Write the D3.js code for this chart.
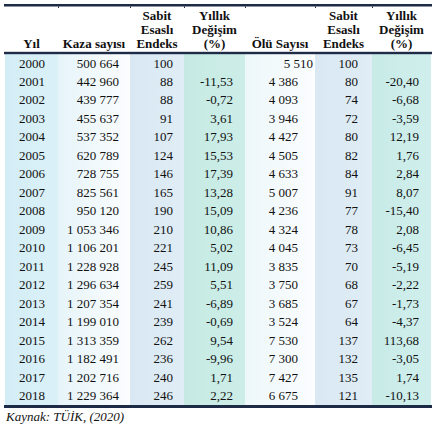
<!DOCTYPE html>
<html><head><meta charset="utf-8">
<script src="https://cdn.jsdelivr.net/npm/d3@7"></script>
<style>html,body{margin:0;padding:0;background:#fff}svg{display:block}
svg text{font-family:"Liberation Serif","Times New Roman",Times,serif;}</style>
</head><body>
<script>
const years = [2000,2001,2002,2003,2004,2005,2006,2007,2008,2009,2010,2011,2012,2013,2014,2015,2016,2017,2018];
const kazaSayisi = [500664,442960,439777,455637,537352,620789,728755,825561,950120,1053346,1106201,1228928,1296634,1207354,1199010,1313359,1182491,1202716,1229364];
const kazaEndeks = [100,88,88,91,107,124,146,165,190,210,221,245,259,241,239,262,236,240,246];
const kazaDegisim = [null,-11.53,-0.72,3.61,17.93,15.53,17.39,13.28,15.09,10.86,5.02,11.09,5.51,-6.89,-0.69,9.54,-9.96,1.71,2.22];
const oluSayisi = [5510,4386,4093,3946,4427,4505,4633,5007,4236,4324,4045,3835,3750,3685,3524,7530,7300,7427,6675];
const oluEndeks = [100,80,74,72,80,82,84,91,77,78,73,70,68,67,64,137,132,135,121];
const oluDegisim = [null,-20.40,-6.68,-3.59,12.19,1.76,2.84,8.07,-15.40,2.08,-6.45,-5.19,-2.22,-1.73,-4.37,113.68,-3.05,1.74,-10.13];
const headers = [["Yıl"],["Kaza sayısı"],["Sabit","Esaslı","Endeks"],["Yıllık","Değişim","(%)"],["Ölü Sayısı"],["Sabit","Esaslı","Endeks"],["Yıllık","Değişim","(%)"]];
const source = "Kaynak: TÜİK, (2020)";

const W = 438, H = 429;
const loc = d3.formatLocale({decimal: ",", thousands: " ", grouping: [3], minus: "-"});
const fInt = loc.format(",d");
const fDec = loc.format(",.2f");
const fYear = d => String(d);

const edges = [5,58,130,184,245,315,372,431];
const cols = [
  {data: years, fmt: fYear, anchor: "middle", x: 32, c1: "#d3edf6", c2: "#dbf1f8"},
  {data: kazaSayisi, fmt: fInt, anchor: "end", x: 119, c1: "#e6f4f9", c2: "#fbfdfe"},
  {data: kazaEndeks, fmt: fInt, anchor: "end", x: 173, c1: "#d9e8f3", c2: "#e0edf6"},
  {data: kazaDegisim, fmt: fDec, anchor: "end", x: 233, c1: "#c6eae3", c2: "#cdeee8"},
  {data: oluSayisi, fmt: fInt, anchor: "end", x: 298, c1: "#edf7fa", c2: "#fbfdfe"},
  {data: oluEndeks, fmt: fInt, anchor: "end", x: 358, c1: "#d9e8f3", c2: "#e0edf6"},
  {data: oluDegisim, fmt: fDec, anchor: "end", x: 419, c1: "#c8ebe8", c2: "#d0efec"}
];

const svg = d3.select("body").append("svg").attr("width", W).attr("height", H);
const defs = svg.append("defs");
cols.forEach((c, i) => {
  const g = defs.append("linearGradient").attr("id", "g" + i).attr("x1", "0").attr("x2", "1").attr("y1", "0").attr("y2", "0");
  g.append("stop").attr("offset", "0").attr("stop-color", c.c1);
  g.append("stop").attr("offset", "1").attr("stop-color", c.c2);
});

const y = d3.scaleBand().domain(years).range([54, 405]).padding(0);

svg.append("g").selectAll("rect").data(cols).join("rect")
  .attr("x", (d, i) => edges[i]).attr("width", (d, i) => edges[i + 1] - edges[i])
  .attr("y", y.range()[0]).attr("height", y.range()[1] - y.range()[0])
  .attr("fill", (d, i) => `url(#g${i})`);

const hg = svg.append("g").style("font-size", "13px").style("font-weight", "bold").attr("fill", "#111");
headers.forEach((lines, i) => {
  const cx = (edges[i] + edges[i + 1]) / 2;
  lines.forEach((t, j) => {
    hg.append("text").attr("x", cx).attr("y", 47.5 - (lines.length - 1 - j) * 13.7)
      .attr("text-anchor", "middle").text(t);
  });
});

const bg = svg.append("g").style("font-size", "13px").attr("fill", "#111");
cols.forEach((c, ci) => {
  bg.append("g").selectAll("text").data(c.data.map((v, i) => ({v, yr: years[i], i})).filter(d => d.v !== null))
    .join("text")
    .attr("x", d => c.x + (ci === 4 && d.i === 0 ? 15 : 0))
    .attr("y", d => y(d.yr) + 13.5)
    .attr("text-anchor", c.anchor)
    .text(d => c.fmt(d.v));
});

const navy = "#1e2b47";
svg.append("rect").attr("x", 4).attr("y", 4).attr("width", 428).attr("height", 2.5).attr("fill", navy);
svg.append("rect").attr("x", 4).attr("y", 51.8).attr("width", 428).attr("height", 2.4).attr("fill", navy);
svg.append("rect").attr("x", 4).attr("y", 405).attr("width", 428).attr("height", 3).attr("fill", navy);
svg.append("g").selectAll("rect").data(edges.slice(1, -1)).join("rect")
  .attr("x", d => d).attr("y", 6.5).attr("width", 1).attr("height", 1.5).attr("fill", navy);

svg.append("text").attr("x", 6).attr("y", 421).style("font-size", "13px")
  .style("font-style", "italic").attr("fill", "#111").text(source);
</script>
</body></html>
